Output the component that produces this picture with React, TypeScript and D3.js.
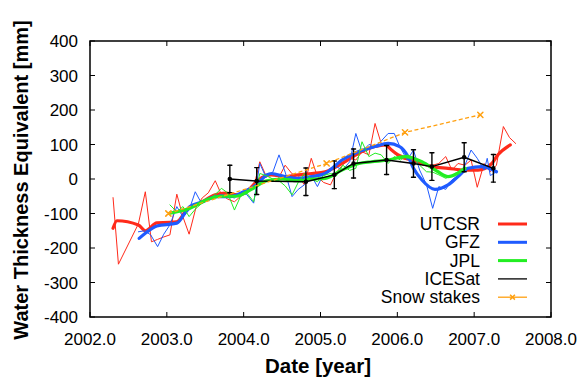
import React from 'react';
import * as d3 from 'd3';

// ---------- data ----------
const xTicks = [2002, 2003, 2004, 2005, 2006, 2007, 2008];
const yTicks = [-400, -300, -200, -100, 0, 100, 200, 300, 400];

const utcsrYears = [2002.30, 2002.37, 2002.63, 2002.72, 2002.80, 2002.88, 2002.96, 2003.04, 2003.13, 2003.21, 2003.29, 2003.38, 2003.46, 2003.54, 2003.63, 2003.71, 2003.79, 2003.88, 2003.96, 2004.04, 2004.13, 2004.21, 2004.29, 2004.38, 2004.46, 2004.54, 2004.63, 2004.71, 2004.79, 2004.88, 2004.96, 2005.04, 2005.13, 2005.21, 2005.29, 2005.38, 2005.46, 2005.54, 2005.63, 2005.71, 2005.79, 2005.88, 2005.96, 2006.04, 2006.13, 2006.21, 2006.29, 2006.38, 2006.46, 2006.54, 2006.63, 2006.71, 2006.79, 2006.88, 2006.96, 2007.04, 2007.13, 2007.21, 2007.29, 2007.38, 2007.46, 2007.54];
const utcsrValues = [-54, -247, -130, -37, -182, -175, -168, -162, -44, -110, -160, -82, -55, -40, -5, -45, -58, -66, -50, -41, -24, 50, 10, 15, 5, 40, 15, 10, -17, 60, 7, -10, -17, 20, 41, 60, 55, 79, 70, 161, 103, 100, 74, 60, 55, 65, 50, 41, 40, 45, 65, 26, 45, 40, 55, -24, 45, 21, 40, 152, 120, 103];

const utcsrSmoothYears = [2002.30, 2002.35, 2002.63, 2002.72, 2002.87, 2003.04, 2003.13, 2003.26, 2003.43, 2003.63, 2003.76, 2003.93, 2004.06, 2004.19, 2004.36, 2004.54, 2004.71, 2004.89, 2005.06, 2005.28, 2005.49, 2005.71, 2005.84, 2005.92, 2006.01, 2006.19, 2006.32, 2006.45, 2006.66, 2006.88, 2007.05, 2007.23, 2007.31, 2007.47];
const utcsrSmoothValues = [-143, -121, -133, -150, -127, -126, -124, -90, -70, -46, -41, -46, -32, -3, 12, 7, 12, 16, 21, 45, 74, 94, 99, 85, 70, 55, 45, 36, 31, 26, 26, 45, 70, 99];

const gfzYears = [2002.63, 2002.71, 2002.79, 2002.88, 2002.96, 2003.04, 2003.13, 2003.21, 2003.29, 2003.37, 2003.45, 2003.54, 2003.62, 2003.71, 2003.79, 2003.88, 2003.96, 2004.04, 2004.13, 2004.21, 2004.29, 2004.38, 2004.46, 2004.54, 2004.63, 2004.71, 2004.79, 2004.88, 2004.96, 2005.04, 2005.13, 2005.21, 2005.29, 2005.38, 2005.46, 2005.54, 2005.63, 2005.71, 2005.79, 2005.88, 2005.96, 2006.04, 2006.13, 2006.21, 2006.29, 2006.38, 2006.46, 2006.54, 2006.63, 2006.71, 2006.79, 2006.88, 2006.96, 2007.04, 2007.13, 2007.17, 2007.21, 2007.29];
const gfzValues = [-153, -150, -162, -196, -160, -133, -80, -110, -90, -37, -70, -55, -50, -45, -50, -55, -40, -45, -70, 45, 5, 20, 70, 20, -51, -30, -17, 10, -22, 15, 31, 35, 26, 50, 132, 79, 100, 95, 110, 132, 132, 90, 55, 84, 26, -17, -85, -22, -30, -3, 10, 40, 84, 60, 26, 60, 10, 21];

const gfzSmoothYears = [2002.64, 2002.72, 2002.87, 2003.13, 2003.30, 2003.47, 2003.65, 2003.82, 2004.00, 2004.17, 2004.30, 2004.36, 2004.54, 2004.71, 2004.89, 2005.06, 2005.28, 2005.49, 2005.71, 2005.88, 2006.03, 2006.14, 2006.21, 2006.32, 2006.49, 2006.66, 2006.79, 2006.92, 2007.10, 2007.29];
const gfzSmoothValues = [-172, -157, -136, -128, -80, -66, -51, -51, -37, -17, 12, 16, 7, 2, 7, 16, 55, 79, 94, 103, 94, 65, 31, -3, -30, -17, 7, 31, 36, 21];

const jplYears = [2003.04, 2003.13, 2003.21, 2003.29, 2003.38, 2003.46, 2003.54, 2003.63, 2003.71, 2003.79, 2003.88, 2003.96, 2004.04, 2004.13, 2004.21, 2004.29, 2004.38, 2004.46, 2004.54, 2004.63, 2004.71, 2004.79, 2004.88, 2004.96, 2005.04, 2005.13, 2005.21, 2005.29, 2005.38, 2005.46, 2005.54, 2005.63, 2005.71, 2005.79, 2005.88, 2005.96, 2006.04, 2006.13, 2006.21, 2006.29, 2006.38, 2006.46, 2006.54, 2006.63, 2006.71, 2006.79, 2006.88];
const jplValues = [-75, -95, -80, -109, -85, -70, -60, -45, -27, -40, -90, -50, -40, -66, 16, 10, 0, -5, -20, -46, -10, 16, 0, -8, 10, 16, 10, 40, 25, 31, 108, 65, 75, 70, 45, 65, 55, 70, 60, 40, 21, 20, 12, 2, 10, 21, 36];

const jplSmoothYears = [2003.04, 2003.30, 2003.50, 2003.70, 2003.90, 2004.10, 2004.30, 2004.50, 2004.70, 2004.90, 2005.06, 2005.28, 2005.50, 2005.67, 2005.88, 2006.10, 2006.32, 2006.53, 2006.66, 2006.78, 2006.88];
const jplSmoothValues = [-99, -85, -62, -50, -50, -30, -5, 0, -5, 0, 2, 26, 45, 50, 55, 65, 50, 21, 7, 16, 31];

const icesatYears = [2003.82, 2004.17, 2004.81, 2005.18, 2005.43, 2005.86, 2006.21, 2006.45, 2006.87, 2007.25];
const icesatValues = [0, -6, -8, 12, 45, 55, 45, 36, 63, 31];
const icesatErrors = [40, 39, 40, 40, 42, 42, 40, 40, 42, 40];

const snowYears = [2003.02, 2005.08, 2006.10, 2007.08];
const snowValues = [-100, 45, 135, 186];

const legendLabels = ['UTCSR', 'GFZ', 'JPL', 'ICESat', 'Snow stakes'];

// ---------- chart ----------
const W = 580;
const H = 378;
const FONT = '"Liberation Sans", Arial, Helvetica, sans-serif';
const RED = '#ff2a1a';
const BLUE = '#1f5bff';
const GREEN = '#22ee22';
const ORANGE = '#ffa010';

const x = d3.scaleLinear().domain([2002, 2008]).range([90, 551]);
const y = d3.scaleLinear().domain([-400, 400]).range([317, 41]);

const zip = (xs: number[], ys: number[]) => xs.map((v, i) => [v, ys[i]] as [number, number]);
const line = d3.line<[number, number]>().x(d => x(d[0])).y(d => y(d[1]));
const smooth = d3.line<[number, number]>().x(d => x(d[0])).y(d => y(d[1])).curve(d3.curveMonotoneX);

export default function App() {
  const [x0, x1] = x.range();
  const [yb, yt] = y.range();
  const tickLen = 5;
  const legendX1 = 498;
  const legendX2 = 527;
  const legendTextX = 480;
  const legendY0 = 224;
  const legendStep = 18.3;
  const legendStyles = [
    { stroke: RED, width: 3 },
    { stroke: BLUE, width: 3 },
    { stroke: GREEN, width: 3 },
    { stroke: '#000', width: 1.3 },
    { stroke: ORANGE, width: 1.3 },
  ];
  const cross = (cx: number, cy: number, s: number, key: string) => (
    <path key={key} d={`M${cx - s},${cy - s}L${cx + s},${cy + s}M${cx - s},${cy + s}L${cx + s},${cy - s}`} stroke={ORANGE} strokeWidth={1.5} fill="none" />
  );
  return (
    <svg width={W} height={H} style={{ position: 'absolute', left: 0, top: 0, background: '#fff' }} fontFamily={FONT}>
      <rect x={0} y={0} width={W} height={H} fill="#fff" />
      {/* series */}
      <g fill="none" strokeLinejoin="round" strokeLinecap="round">
        <path d={line(zip(utcsrYears, utcsrValues)) || ''} stroke={RED} strokeWidth={1} />
        <path d={smooth(zip(utcsrSmoothYears, utcsrSmoothValues)) || ''} stroke={RED} strokeWidth={3.2} />
        <path d={line(zip(gfzYears, gfzValues)) || ''} stroke={BLUE} strokeWidth={1} />
        <path d={smooth(zip(gfzSmoothYears, gfzSmoothValues)) || ''} stroke={BLUE} strokeWidth={3.2} />
        <path d={line(zip(jplYears, jplValues)) || ''} stroke={GREEN} strokeWidth={1} />
        <path d={smooth(zip(jplSmoothYears, jplSmoothValues)) || ''} stroke={GREEN} strokeWidth={3.2} />
        <path d={line(zip(icesatYears, icesatValues)) || ''} stroke="#000" strokeWidth={1.4} />
        {icesatYears.map((t, i) => (
          <g key={'e' + i} stroke="#000" strokeWidth={1.4}>
            <line x1={x(t)} x2={x(t)} y1={y(icesatValues[i] + icesatErrors[i])} y2={y(icesatValues[i] - icesatErrors[i])} />
            <line x1={x(t) - 2} x2={x(t) + 2} y1={y(icesatValues[i] + icesatErrors[i])} y2={y(icesatValues[i] + icesatErrors[i])} />
            <line x1={x(t) - 2} x2={x(t) + 2} y1={y(icesatValues[i] - icesatErrors[i])} y2={y(icesatValues[i] - icesatErrors[i])} />
            <circle cx={x(t)} cy={y(icesatValues[i])} r={1.6} fill="#000" />
          </g>
        ))}
        <path d={line(zip(snowYears, snowValues)) || ''} stroke={ORANGE} strokeWidth={1.3} strokeDasharray="4,2.5" strokeLinecap="butt" />
        {snowYears.map((t, i) => cross(x(t), y(snowValues[i]), 2.6, 's' + i))}
      </g>

      {/* frame */}
      <rect x={x0} y={yt} width={x1 - x0} height={yb - yt} fill="none" stroke="#000" strokeWidth={1.5} />
      {xTicks.map(t => (
        <g key={'xt' + t}>
          <line x1={x(t)} x2={x(t)} y1={yb} y2={yb - tickLen} stroke="#000" strokeWidth={1} />
          <line x1={x(t)} x2={x(t)} y1={yt} y2={yt + tickLen} stroke="#000" strokeWidth={1} />
          <text x={x(t)} y={345} textAnchor="middle" fontSize={17} fill="#000">{t.toFixed(1)}</text>
        </g>
      ))}
      {yTicks.map(t => (
        <g key={'yt' + t}>
          <line x1={x0} x2={x0 + tickLen} y1={y(t)} y2={y(t)} stroke="#000" strokeWidth={1} />
          <line x1={x1} x2={x1 - tickLen} y1={y(t)} y2={y(t)} stroke="#000" strokeWidth={1} />
          <text x={78} y={y(t) + 6} textAnchor="end" fontSize={17} fill="#000">{t}</text>
        </g>
      ))}

      {/* axis titles */}
      <text x={318} y={373} textAnchor="middle" fontSize={20.5} fontWeight="bold" fill="#000">Date [year]</text>
      <text transform={`translate(28,180) rotate(-90)`} textAnchor="middle" fontSize={20} fontWeight="bold" fill="#000">Water Thickness Equivalent [mm]</text>

      {/* legend */}
      {legendLabels.map((lab, i) => {
        const ly = legendY0 + i * legendStep;
        const st = legendStyles[i];
        return (
          <g key={'lg' + i}>
            <text x={legendTextX} y={ly + 6} textAnchor="end" fontSize={17.5} fill="#000">{lab}</text>
            <line x1={legendX1} x2={legendX2} y1={ly} y2={ly} stroke={st.stroke} strokeWidth={st.width} />
            {i === 4 ? cross((legendX1 + legendX2) / 2, ly, 2.4, 'lgx') : null}
          </g>
        );
      })}
    </svg>
  );
}
